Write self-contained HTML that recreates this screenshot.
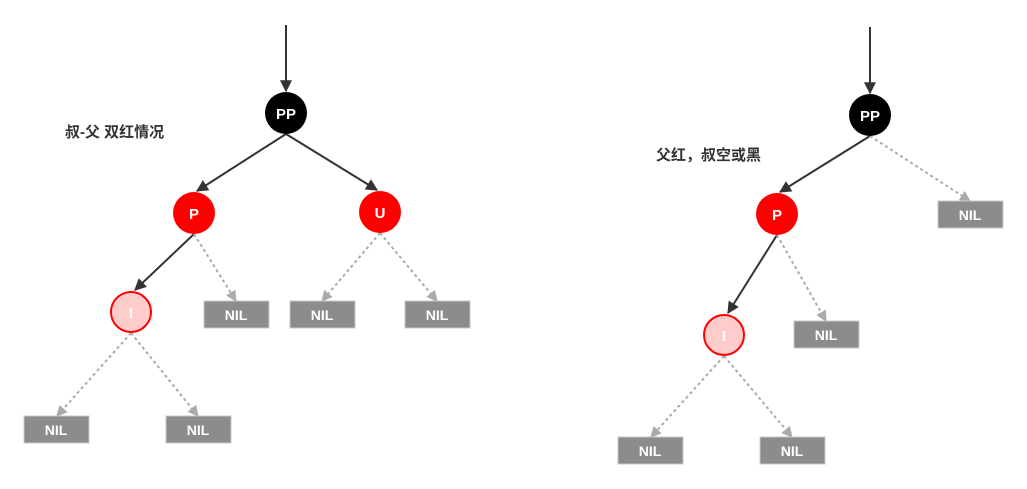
<!DOCTYPE html>
<html><head><meta charset="utf-8"><style>
html,body{margin:0;padding:0;background:#fff;}
svg{display:block;}
text{font-family:"Liberation Sans","Noto Sans CJK SC",sans-serif;}
</style></head><body>
<svg width="1027" height="489" viewBox="0 0 1027 489" xmlns="http://www.w3.org/2000/svg">
<defs>
<marker id="ab" viewBox="0 0 10 10" refX="9" refY="5" markerWidth="13" markerHeight="12" markerUnits="userSpaceOnUse" orient="auto"><path d="M0,0 L10,5 L0,10 z" fill="#333"/></marker>
<marker id="ag" viewBox="0 0 10 10" refX="9" refY="5" markerWidth="12" markerHeight="11" markerUnits="userSpaceOnUse" orient="auto"><path d="M0,0 L10,5 L0,10 z" fill="#aaa"/></marker>
</defs>
<g stroke="#333" stroke-width="2" fill="none" marker-end="url(#ab)">
<line x1="286" y1="25" x2="286" y2="91"/>
<line x1="286" y1="134" x2="197" y2="191"/>
<line x1="286" y1="134" x2="377" y2="190"/>
<line x1="194" y1="234" x2="135" y2="290"/>
<line x1="870" y1="27" x2="870" y2="93"/>
<line x1="870" y1="136" x2="780" y2="192"/>
<line x1="777" y1="235" x2="728" y2="313"/>
</g>
<g stroke="#aaa" stroke-width="2" stroke-dasharray="3,3" fill="none" marker-end="url(#ag)">
<line x1="194" y1="234" x2="236" y2="301"/>
<line x1="380" y1="233" x2="322" y2="301"/>
<line x1="380" y1="233" x2="437" y2="301"/>
<line x1="131" y1="333" x2="57" y2="416"/>
<line x1="131" y1="333" x2="198" y2="416"/>
<line x1="870" y1="136" x2="970" y2="201"/>
<line x1="777" y1="235" x2="826" y2="321"/>
<line x1="724" y1="356" x2="651" y2="437"/>
<line x1="724" y1="356" x2="792" y2="437"/>
</g>
<g fill="#8c8c8c" stroke="#c8c8c8" stroke-width="1">
<rect x="204" y="301" width="65" height="27"/>
<rect x="290" y="301" width="65" height="27"/>
<rect x="405" y="301" width="65" height="27"/>
<rect x="24" y="416" width="65" height="27"/>
<rect x="166" y="416" width="65" height="27"/>
<rect x="938" y="201" width="65" height="27"/>
<rect x="794" y="321" width="65" height="27"/>
<rect x="618" y="437" width="65" height="27"/>
<rect x="760" y="437" width="65" height="27"/>
</g>
<g fill="#fff" font-size="14" font-weight="bold" text-anchor="middle">
<text x="236" y="320">NIL</text>
<text x="322" y="320">NIL</text>
<text x="437" y="320">NIL</text>
<text x="56" y="435">NIL</text>
<text x="198" y="435">NIL</text>
<text x="970" y="220">NIL</text>
<text x="826" y="340">NIL</text>
<text x="650" y="456">NIL</text>
<text x="792" y="456">NIL</text>
</g>
<circle cx="286" cy="113" r="21" fill="#000"/>
<circle cx="194" cy="213" r="21" fill="#f00"/>
<circle cx="380" cy="212" r="21" fill="#f00"/>
<circle cx="131" cy="312" r="20" fill="#fcc" stroke="#f00" stroke-width="2"/>
<circle cx="870" cy="115" r="21" fill="#000"/>
<circle cx="777" cy="214" r="21" fill="#f00"/>
<circle cx="724" cy="335" r="20" fill="#fcc" stroke="#f00" stroke-width="2"/>
<g fill="#fff" font-size="15" font-weight="bold" text-anchor="middle">
<text x="286" y="119">PP</text>
<text x="194" y="219">P</text>
<text x="380" y="218">U</text>
<text x="131" y="318">I</text>
<text x="870" y="121">PP</text>
<text x="777" y="220">P</text>
<text x="724" y="341">I</text>
</g>
<g fill="#333" font-size="15" font-weight="bold">
<text x="65" y="137">叔-父 双红情况</text>
<text x="656" y="160">父红，叔空或黑</text>
</g>
</svg>
</body></html>
